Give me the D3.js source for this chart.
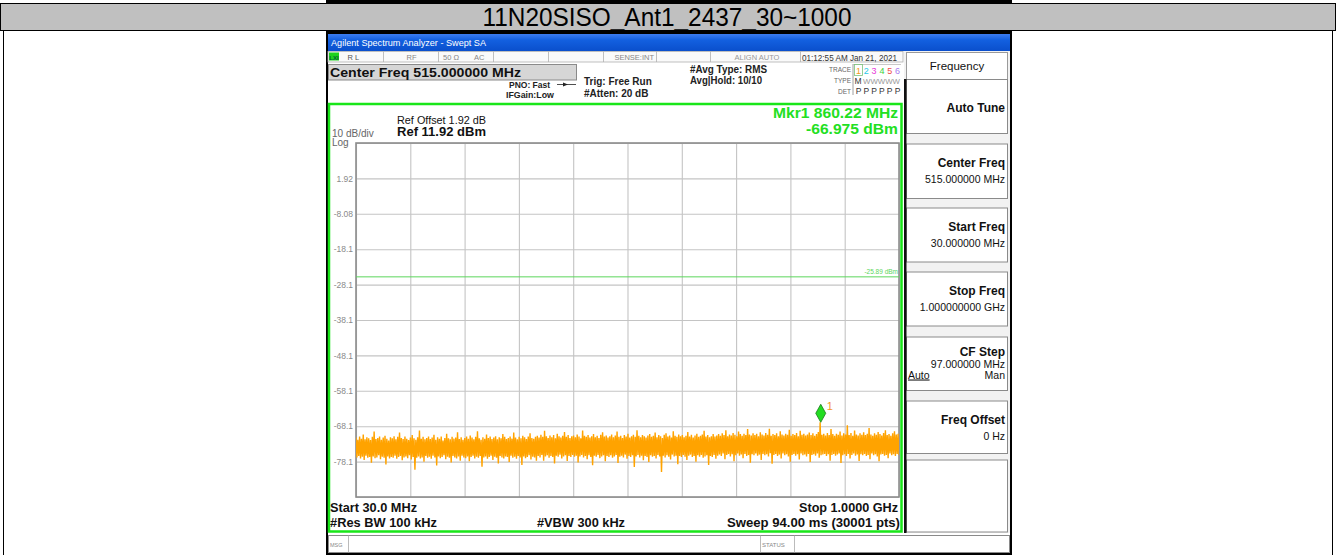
<!DOCTYPE html>
<html>
<head>
<meta charset="utf-8">
<script src="https://cdn.jsdelivr.net/npm/d3@7"></script>
<style>
  body { margin: 0; background: #fff; }
  svg { display: block; }
  text { font-family: "Liberation Sans", Arial, sans-serif; }
</style>
</head>
<body>
<svg id="chart" width="1336" height="555"></svg>
<script>
// ---- measurement settings and readings ----
const chartTitle = "11N20SISO_Ant1_2437_30~1000";
const startFreqMHz = 30;
const stopFreqMHz = 1000;
const refLevel = 11.92;          // dBm, top of the graticule
const dbPerDiv = 10;
const divisions = 10;
const freqGrid = [30, 127, 224, 321, 418, 515, 612, 709, 806, 903, 1000];
const levelGrid = [11.92, 1.92, -8.08, -18.08, -28.08, -38.08, -48.08, -58.08, -68.08, -78.08, -88.08];
const levelTicks = [1.92, -8.08, -18.08, -28.08, -38.08, -48.08, -58.08, -68.08, -78.08];
const levelTickLabels = ["1.92", "-8.08", "-18.1", "-28.1", "-38.1", "-48.1", "-58.1", "-68.1", "-78.1"];
const displayLineLevel = -25.89;
const markerFreq = 860.22;
const markerLevel = -66.975;

// Trace 1 (RMS average): alternating sweep peaks and troughs in dBm, 30 MHz -> 1 GHz
const traceHigh = [
  -71.3,-71.9,-71.0,-71.6,-70.4,-71.8,-71.2,-71.5,-72.0,-71.1,-69.6,-71.7,-71.4,-71.0,-71.9,-71.3,-70.8,-71.6,-72.1,-71.2,
  -71.5,-70.9,-71.8,-71.1,-69.9,-71.4,-71.7,-71.0,-71.6,-72.0,-71.3,-70.6,-71.5,-71.9,-71.2,-69.3,-71.6,-71.1,-71.8,-71.4,
  -71.0,-71.7,-71.3,-70.5,-71.9,-71.2,-71.6,-71.0,-72.1,-71.4,-70.2,-71.5,-71.8,-71.1,-71.6,-71.3,-69.8,-71.7,-71.2,-71.9,
  -71.4,-71.0,-71.6,-70.7,-71.3,-71.8,-71.1,-69.5,-71.5,-71.9,-71.2,-71.6,-70.4,-71.4,-71.0,-71.7,-71.3,-70.9,-71.8,-71.2,
  -71.5,-70.3,-71.1,-71.7,-71.4,-71.0,-71.6,-69.9,-71.3,-71.8,-71.1,-71.5,-70.8,-71.2,-71.7,-71.0,-70.1,-71.4,-71.6,-71.1,
  -70.8,-71.3,-70.5,-71.1,-69.4,-70.9,-71.4,-70.7,-71.2,-70.6,-71.5,-70.2,-70.9,-71.3,-70.8,-69.7,-71.1,-70.6,-71.4,-70.9,
  -70.7,-71.2,-70.4,-71.0,-71.5,-69.3,-70.8,-71.1,-70.6,-71.3,-70.9,-70.3,-71.2,-70.8,-71.4,-70.5,-69.8,-71.0,-70.7,-71.3,
  -70.9,-70.4,-71.2,-70.7,-69.6,-71.1,-70.8,-71.4,-70.6,-71.0,-70.2,-71.3,-70.9,-70.5,-71.1,-69.2,-70.8,-71.2,-70.6,-70.9,
  -71.3,-70.7,-70.3,-71.1,-70.8,-69.9,-71.2,-70.6,-70.9,-71.4,-70.5,-70.1,-71.0,-70.7,-71.3,-69.5,-70.8,-71.1,-70.4,-70.9,
  -70.6,-71.2,-70.8,-69.7,-71.0,-70.5,-71.3,-70.7,-70.2,-71.1,-70.8,-70.4,-69.4,-71.0,-70.6,-71.2,-70.9,-70.3,-71.0,-70.7,
  -70.3,-70.8,-70.1,-70.6,-69.2,-70.9,-70.4,-70.7,-70.0,-70.5,-70.9,-69.6,-70.3,-70.8,-70.2,-70.6,-68.9,-70.4,-70.7,-70.1,
  -70.6,-70.2,-70.9,-69.8,-70.4,-70.7,-70.0,-70.5,-68.8,-70.8,-70.3,-70.6,-70.1,-70.9,-69.5,-70.4,-70.7,-70.2,-70.5,-69.1,
  -70.8,-70.3,-70.6,-70.0,-70.9,-69.4,-70.5,-70.2,-70.7,-70.4,-69.9,-70.6,-70.1,-70.8,-70.3,-69.7,-66.975,-70.5,-70.2,-70.7,
  -70.0,-70.6,-68.9,-70.3,-70.8,-70.2,-70.5,-69.6,-70.7,-70.1,-70.4,-67.8,-70.6,-70.0,-70.8,-69.3,-70.4,-70.7,-70.1,-70.5,
  -69.8,-70.6,-70.2,-68.6,-70.4,-70.8,-70.1,-70.5,-69.7,-70.3,-70.7,-70.0,-69.2,-70.6,-70.3,-70.8,-70.1,-69.5,-70.4,-70.2
];
const traceLow = [
  -76.9,-76.5,-77.2,-76.7,-77.6,-76.4,-77.0,-76.8,-78.4,-76.6,-77.1,-76.9,-76.3,-77.4,-76.7,-77.0,-78.9,-76.6,-77.2,-76.8,
  -77.0,-76.4,-77.3,-76.8,-76.5,-77.7,-76.9,-76.6,-77.1,-76.3,-77.5,-76.8,-80.4,-77.0,-76.6,-77.2,-76.9,-78.1,-76.5,-77.0,
  -76.7,-77.3,-76.4,-76.9,-79.2,-76.6,-77.1,-76.8,-76.3,-77.4,-76.7,-77.0,-78.3,-76.5,-76.9,-77.2,-76.6,-77.8,-76.4,-76.9,
  -77.1,-76.6,-78.0,-76.8,-76.4,-77.2,-76.7,-77.0,-76.5,-79.5,-76.9,-76.6,-77.3,-76.8,-76.4,-77.6,-76.7,-77.0,-78.6,-76.5,
  -76.9,-77.2,-76.6,-76.8,-78.2,-76.4,-77.0,-76.7,-77.3,-76.5,-76.9,-79.0,-76.6,-77.1,-76.8,-76.3,-77.5,-76.7,-76.9,-77.8,
  -76.5,-76.9,-76.2,-77.8,-76.6,-76.3,-77.0,-76.5,-76.8,-78.6,-76.4,-76.7,-76.1,-77.2,-76.6,-76.3,-77.9,-76.5,-76.8,-76.2,
  -76.7,-76.4,-78.3,-76.6,-76.2,-76.9,-76.5,-77.4,-76.3,-76.8,-79.1,-76.4,-76.7,-76.2,-77.1,-76.6,-76.3,-78.0,-76.5,-76.8,
  -76.3,-77.0,-76.6,-76.2,-78.5,-76.7,-76.4,-76.9,-76.1,-77.3,-76.5,-76.8,-76.3,-79.6,-76.6,-76.2,-76.9,-76.4,-77.7,-76.5,
  -76.8,-78.2,-76.3,-76.7,-76.5,-77.2,-76.2,-76.6,-81.0,-76.4,-76.9,-76.3,-76.7,-77.5,-76.1,-76.6,-76.4,-78.8,-76.5,-76.8,
  -76.2,-76.7,-77.6,-76.4,-76.1,-76.8,-76.5,-78.1,-76.3,-76.7,-76.2,-77.0,-76.6,-76.3,-79.0,-76.5,-76.8,-76.2,-77.3,-76.4,
  -76.1,-76.5,-75.8,-77.4,-76.2,-75.9,-76.6,-76.0,-78.0,-76.3,-75.8,-76.4,-76.1,-77.1,-75.9,-76.5,-76.2,-78.4,-76.0,-76.3,
  -75.8,-76.4,-76.1,-77.6,-75.9,-76.3,-76.0,-76.6,-75.7,-78.7,-76.2,-75.9,-76.5,-76.1,-77.2,-75.8,-76.3,-76.0,-76.6,-78.1,
  -76.2,-75.9,-76.4,-76.0,-77.5,-75.8,-76.3,-76.1,-76.6,-75.9,-78.2,-76.2,-76.0,-76.4,-75.8,-77.0,-76.3,-76.1,-75.9,-76.5,
  -76.0,-77.8,-76.2,-75.9,-76.4,-76.1,-75.8,-78.5,-76.3,-76.0,-76.5,-75.9,-77.2,-76.2,-75.8,-76.4,-76.1,-77.9,-76.0,-76.3,
  -75.9,-76.5,-76.2,-77.4,-75.8,-76.3,-76.0,-76.6,-78.0,-76.1,-75.9,-76.4,-76.2,-77.1,-75.8,-76.3,-76.0,-76.5,-75.9,-76.2
];

// Softkey menu (Frequency)
const softkeyLabels = ["Auto Tune", "Center Freq", "Start Freq", "Stop Freq", "CF Step", "Freq Offset", ""];
const softkeyValues = ["", "515.000000 MHz", "30.000000 MHz", "1.000000000 GHz", "97.000000 MHz", "0 Hz", ""];

// Instrument annotations
const titleBarText = "Agilent Spectrum Analyzer - Swept SA";
const centerFreqText = "Center Freq 515.000000 MHz";
const dateText = "01:12:55 AM Jan 21, 2021";
const traceDigits = ["1", "2", "3", "4", "5", "6"];
const traceDigitColors = ["#f39a1e", "#28c8e8", "#e838d8", "#3ad23a", "#f04a4a", "#a87cf0"];

// ---- drawing ----
const svg = d3.select("#chart");
const FONT = "'Liberation Sans', Arial, sans-serif";

function txt(g, x, y, s, opts = {}) {
  const t = g.append("text").attr("x", x).attr("y", y).text(s)
    .attr("font-size", opts.size || 10)
    .attr("font-weight", opts.weight || "normal")
    .attr("fill", opts.fill || "#000")
    .attr("text-anchor", opts.anchor || "start");
  if (opts.len) t.attr("textLength", opts.len).attr("lengthAdjust", "spacingAndGlyphs");
  return t;
}

// page table: title row and content cell
svg.append("rect").attr("x", 326).attr("y", 0).attr("width", 686).attr("height", 3).attr("fill", "#000");
svg.append("rect").attr("x", 0.5).attr("y", 3.5).attr("width", 1335).attr("height", 27)
  .attr("fill", "#c0c0c0").attr("stroke", "#000");
svg.append("line").attr("x1", 3.5).attr("x2", 3.5).attr("y1", 30.5).attr("y2", 555).attr("stroke", "#000");
svg.append("line").attr("x1", 1332.5).attr("x2", 1332.5).attr("y1", 30.5).attr("y2", 555).attr("stroke", "#000");

// analyzer screen
const scr = svg.append("g");
scr.append("rect").attr("x", 326).attr("y", 31).attr("width", 686).attr("height", 524).attr("fill", "#000");
scr.append("rect").attr("x", 328).attr("y", 34).attr("width", 682).attr("height", 519).attr("fill", "#fff");

// page title (drawn above the row border so underscores stay visible)
txt(svg, 667, 25.5, chartTitle, { size: 25, anchor: "middle", len: 369 });

const defs = svg.append("defs");
const grad = defs.append("linearGradient").attr("id", "tbar").attr("x1", 0).attr("x2", 0).attr("y1", 0).attr("y2", 1);
grad.append("stop").attr("offset", 0).attr("stop-color", "#3c7cf0");
grad.append("stop").attr("offset", 0.35).attr("stop-color", "#1360e0");
grad.append("stop").attr("offset", 1).attr("stop-color", "#0a4fcc");
scr.append("rect").attr("x", 328).attr("y", 34).attr("width", 682).attr("height", 17).attr("fill", "url(#tbar)");
txt(scr, 331, 46, titleBarText, { size: 9.5, fill: "#fff", len: 155 });

// status strip
scr.append("rect").attr("x", 328).attr("y", 51.5).attr("width", 575).attr("height", 10.5)
  .attr("fill", "#fafafa").attr("stroke", "#b0b0b0").attr("stroke-width", 0.8);
[383, 438, 493, 548, 603, 656, 710, 800].forEach(x => {
  scr.append("line").attr("x1", x + 0.5).attr("x2", x + 0.5).attr("y1", 51.5).attr("y2", 62)
    .attr("stroke", "#b0b0b0").attr("stroke-width", 0.8);
});
scr.append("rect").attr("x", 329).attr("y", 52.5).attr("width", 10).attr("height", 8).attr("fill", "#1ed21e");
txt(scr, 334, 59.5, "LXI", { size: 6, weight: "bold", anchor: "middle", fill: "#063" });
txt(scr, 347.5, 60, "R L", { size: 7.5, fill: "#555" });
txt(scr, 406.5, 60, "RF", { size: 7.5, fill: "#888" });
txt(scr, 443, 60, "50 Ω", { size: 7.5, fill: "#888" });
txt(scr, 474, 60, "AC", { size: 7.5, fill: "#888" });
txt(scr, 654, 60, "SENSE:INT", { size: 7.5, fill: "#888", anchor: "end" });
txt(scr, 757, 60, "ALIGN AUTO", { size: 7.5, fill: "#999", anchor: "middle" });
txt(scr, 802, 60.5, dateText, { size: 8.2, fill: "#333", len: 95 });

// center frequency banner and settings
scr.append("rect").attr("x", 328.5).attr("y", 64.5).attr("width", 248).attr("height", 15.5)
  .attr("fill", "#d6d6d6").attr("stroke", "#8a8a8a");
txt(scr, 330, 77, centerFreqText, { size: 12.5, weight: "bold", fill: "#111", len: 191 });
txt(scr, 509, 87.5, "PNO: Fast", { size: 8.5, weight: "bold", fill: "#222" });
scr.append("line").attr("x1", 557).attr("x2", 576).attr("y1", 84.5).attr("y2", 84.5).attr("stroke", "#222").attr("stroke-width", 0.8);
scr.append("path").attr("d", "M563,82.5 L568,84.5 L563,86.5 Z").attr("fill", "#222");
txt(scr, 506, 98, "IFGain:Low", { size: 8.8, weight: "bold", fill: "#222" });
txt(scr, 584, 85, "Trig: Free Run", { size: 10, weight: "bold", fill: "#222" });
txt(scr, 584, 96.5, "#Atten: 20 dB", { size: 10, weight: "bold", fill: "#222" });
txt(scr, 690, 72.5, "#Avg Type: RMS", { size: 10, weight: "bold", fill: "#222", len: 77 });
txt(scr, 690, 84, "Avg|Hold: 10/10", { size: 10, weight: "bold", fill: "#222", len: 72 });

// trace status block
txt(scr, 851, 71.5, "TRACE", { size: 6.5, fill: "#666", anchor: "end" });
txt(scr, 851, 83, "TYPE", { size: 6.5, fill: "#666", anchor: "end" });
txt(scr, 851, 94, "DET", { size: 6.5, fill: "#666", anchor: "end" });
scr.append("line").attr("x1", 853).attr("x2", 853).attr("y1", 64).attr("y2", 95).attr("stroke", "#888").attr("stroke-width", 0.8);
scr.append("line").attr("x1", 853).attr("x2", 901).attr("y1", 64.5).attr("y2", 64.5).attr("stroke", "#bbb").attr("stroke-width", 0.8);
scr.append("rect").attr("x", 854.5).attr("y", 64.5).attr("width", 8).attr("height", 11)
  .attr("fill", "none").attr("stroke", "#7cc47c").attr("stroke-width", 0.8);
traceDigits.forEach((d, i) => {
  txt(scr, 858.5 + i * 7.8, 74, d, { size: 9, fill: traceDigitColors[i], anchor: "middle" });
  txt(scr, 858.5 + i * 7.8, 94, "P", { size: 8.5, fill: "#333", anchor: "middle" });
});
txt(scr, 854.5, 84, "M", { size: 8.5, fill: "#333" });
txt(scr, 863, 83.5, "WWWWW", { size: 6.5, fill: "#999", len: 37 });

// softkey panel
const sk = scr.append("g");
sk.append("rect").attr("x", 904).attr("y", 51).attr("width", 106).attr("height", 482).attr("fill", "#f2f2f2");
sk.append("rect").attr("x", 906.5).attr("y", 52.5).attr("width", 101).attr("height", 27)
  .attr("fill", "#fff").attr("stroke", "#9a9a9a");
txt(sk, 957, 70, "Frequency", { size: 11.5, fill: "#111", anchor: "middle" });
const skTop = [79.5, 144, 208, 272, 337, 401, 460];
const skBot = [133.5, 198.5, 262, 326, 390.5, 453.5, 532];
softkeyLabels.forEach((lab, i) => {
  sk.append("rect").attr("x", 906.5).attr("y", skTop[i]).attr("width", 101).attr("height", skBot[i] - skTop[i])
    .attr("fill", "#fff").attr("stroke", "#8a8a8a");
  if (i === 0) {
    txt(sk, 1005, 111.5, lab, { size: 12, weight: "bold", fill: "#111", anchor: "end" });
  } else if (i === 4) {
    txt(sk, 1005, skTop[i] + 18.5, lab, { size: 12, weight: "bold", fill: "#111", anchor: "end" });
    txt(sk, 1005, skTop[i] + 30.5, softkeyValues[i], { size: 10.5, fill: "#111", anchor: "end" });
    txt(sk, 908, skTop[i] + 41.5, "Auto", { size: 10.5, fill: "#111" }).attr("text-decoration", "underline");
    txt(sk, 1005, skTop[i] + 41.5, "Man", { size: 10.5, fill: "#111", anchor: "end" });
  } else if (lab) {
    txt(sk, 1005, skTop[i] + 22.5, lab, { size: 12, weight: "bold", fill: "#111", anchor: "end" });
    txt(sk, 1005, skTop[i] + 38.5, softkeyValues[i], { size: 10.5, fill: "#111", anchor: "end" });
  }
});
sk.append("rect").attr("x", 904).attr("y", 79).attr("width", 2.5).attr("height", 454).attr("fill", "#111");

// message / status line
scr.append("rect").attr("x", 328.5).attr("y", 535.5).attr("width", 681).attr("height", 17)
  .attr("fill", "#fff").attr("stroke", "#8a8a8a");
[348, 760, 794].forEach(x => scr.append("line").attr("x1", x + 0.5).attr("x2", x + 0.5)
  .attr("y1", 535.5).attr("y2", 552.5).attr("stroke", "#aaa").attr("stroke-width", 0.8));
txt(scr, 330, 547, "MSG", { size: 5.5, fill: "#888" });
txt(scr, 762, 547, "STATUS", { size: 6, fill: "#888" });

// ---- graticule ----
const plot = { left: 356, right: 899, top: 143, bottom: 497 };
const x = d3.scaleLinear().domain([startFreqMHz, stopFreqMHz]).range([plot.left, plot.right]);
const y = d3.scaleLinear().domain([refLevel - dbPerDiv * divisions, refLevel]).range([plot.bottom, plot.top]);
const plotW = plot.right - plot.left, plotH = plot.bottom - plot.top;

const gx = scr.append("g").attr("transform", `translate(0,${plot.bottom})`)
  .call(d3.axisBottom(x).tickValues(freqGrid).tickSize(-plotH).tickFormat(""));
const gy = scr.append("g").attr("transform", `translate(${plot.left},0)`)
  .call(d3.axisLeft(y).tickValues(levelGrid).tickSize(-plotW).tickFormat(""));
[gx, gy].forEach(g => {
  g.select(".domain").remove();
  g.selectAll(".tick line").attr("stroke", "#c4c4c4").attr("stroke-width", 1.1);
});
scr.append("rect").attr("x", plot.left).attr("y", plot.top).attr("width", plotW).attr("height", plotH)
  .attr("fill", "none").attr("stroke", "#8c8c8c").attr("stroke-width", 1.6);

const gl = scr.append("g").attr("transform", `translate(${plot.left},0)`)
  .call(d3.axisLeft(y).tickValues(levelTicks).tickSize(0).tickPadding(3).tickFormat((d, i) => levelTickLabels[i]));
gl.select(".domain").remove();
gl.selectAll("text").attr("font-family", FONT).attr("font-size", 8.5).attr("fill", "#8a8a8a").attr("dy", "0.32em");

// scale annotations
txt(scr, 332, 136.5, "10 dB/div", { size: 10, fill: "#666" });
txt(scr, 332, 145.5, "Log", { size: 10, fill: "#666" });
txt(scr, 397, 123.5, "Ref Offset 1.92 dB", { size: 10, fill: "#111", len: 89 });
txt(scr, 397, 136, "Ref 11.92 dBm", { size: 13, weight: "bold", fill: "#111", len: 89 });

// marker readout
txt(scr, 898, 118, `Mkr1 ${markerFreq.toFixed(2)} MHz`, { size: 15, weight: "bold", fill: "#22e022", anchor: "end", len: 125 });
txt(scr, 898, 133.5, `${markerLevel.toFixed(3)} dBm`, { size: 15, weight: "bold", fill: "#22e022", anchor: "end", len: 92 });

// display line
scr.append("line").attr("x1", plot.left).attr("x2", plot.right)
  .attr("y1", y(displayLineLevel)).attr("y2", y(displayLineLevel))
  .attr("stroke", "#5cd65c").attr("stroke-width", 1);
txt(scr, plot.right - 1, y(displayLineLevel) - 2.5, `${displayLineLevel.toFixed(2)} dBm`, { size: 6.5, fill: "#5cd65c", anchor: "end" });

// trace 1
defs.append("clipPath").attr("id", "plotClip").append("rect")
  .attr("x", plot.left).attr("y", plot.top).attr("width", plotW).attr("height", plotH);
const tracePts = [];
traceHigh.forEach((h, i) => { tracePts.push(h, traceLow[i]); });
const nPts = tracePts.length;
const sweepFreq = k => startFreqMHz + k / (nPts - 1) * (stopFreqMHz - startFreqMHz);
const line = d3.line().x((d, k) => x(sweepFreq(k))).y(d => y(d));
scr.append("path").attr("d", line(tracePts)).attr("clip-path", "url(#plotClip)")
  .attr("fill", "none").attr("stroke", "#ffa300").attr("stroke-width", 1.4).attr("stroke-linejoin", "bevel");

// marker 1
const mx = x(markerFreq), my = y(markerLevel);
scr.append("path").attr("d", `M${mx},${my} L${mx + 5},${my - 9} L${mx},${my - 18} L${mx - 5},${my - 9} Z`)
  .attr("fill", "#22dd22").attr("stroke", "#1a7a1a").attr("stroke-width", 0.8);
txt(scr, mx + 6, my - 12, "1", { size: 11, fill: "#f39a1e" });

// green active-window frame
scr.append("rect").attr("x", 329).attr("y", 104).attr("width", 572.5).attr("height", 427.5)
  .attr("fill", "none").attr("stroke", "#19e619").attr("stroke-width", 2.5);

// sweep settings
txt(scr, 330, 511.5, "Start 30.0 MHz", { size: 12, weight: "bold", fill: "#111", len: 87 });
txt(scr, 898, 511.5, "Stop 1.0000 GHz", { size: 12, weight: "bold", fill: "#111", anchor: "end", len: 99 });
txt(scr, 330, 526.5, "#Res BW 100 kHz", { size: 12, weight: "bold", fill: "#111", len: 107 });
txt(scr, 537, 526.5, "#VBW 300 kHz", { size: 12, weight: "bold", fill: "#111", len: 88 });
txt(scr, 900, 526.5, "Sweep  94.00 ms (30001 pts)", { size: 12, weight: "bold", fill: "#111", anchor: "end", len: 173 });
</script>
</body>
</html>
